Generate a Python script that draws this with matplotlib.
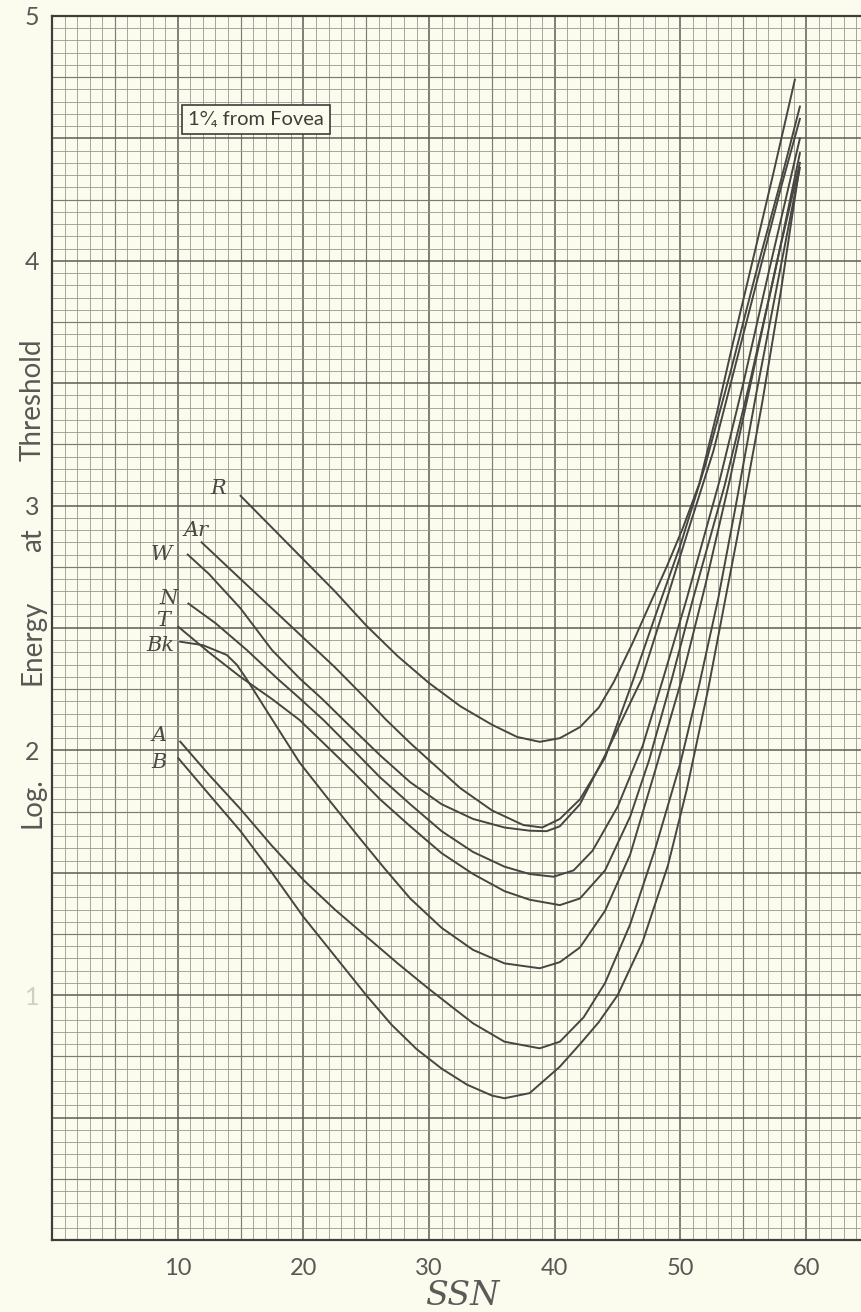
import numpy as np
import matplotlib.pyplot as plt

# threshold curves, 1 1/4 deg from fovea
r_x = [15.0, 17.5, 20.0, 22.5, 25.0, 27.5, 30.0, 32.5, 35.0, 37.0, 38.8, 40.4, 42.0, 43.5, 44.7, 46.2, 47.5, 48.9, 50.2, 51.5, 52.9, 54.2, 55.6, 57.4, 59.1]
r_y = [3.04, 2.91, 2.78, 2.65, 2.51, 2.385, 2.275, 2.18, 2.105, 2.055, 2.035, 2.05, 2.095, 2.175, 2.28, 2.44, 2.59, 2.75, 2.91, 3.09, 3.38, 3.67, 3.97, 4.36, 4.74]

ar_x = [11.9, 15.0, 17.5, 20.0, 22.5, 25.0, 26.6, 28.5, 30.0, 32.5, 35.0, 37.5, 39.0, 40.4, 42.0, 44.0, 46.25, 48.0, 50.0, 52.0, 54.0, 56.0, 58.0, 59.5]
ar_y = [2.85, 2.70, 2.58, 2.46, 2.34, 2.21, 2.124, 2.03, 1.96, 1.845, 1.755, 1.695, 1.685, 1.72, 1.80, 1.97, 2.29, 2.55, 2.84, 3.17, 3.55, 3.95, 4.33, 4.63]

w_x = [10.8, 12.5, 15.0, 17.5, 19.7, 21.5, 23.2, 26.1, 28.5, 31.0, 33.5, 36.0, 38.0, 39.35, 40.4, 42.0, 44.0, 46.9, 48.5, 50.5, 52.6, 54.5, 56.5, 58.0, 59.5]
w_y = [2.80, 2.72, 2.58, 2.41, 2.294, 2.21, 2.124, 1.98, 1.87, 1.78, 1.72, 1.685, 1.672, 1.67, 1.69, 1.78, 1.98, 2.29, 2.55, 2.88, 3.22, 3.60, 4.00, 4.30, 4.58]

n_x = [10.85, 13.0, 15.5, 18.0, 19.7, 21.6, 24.0, 26.1, 28.5, 31.0, 33.5, 36.0, 38.0, 39.9, 41.5, 43.0, 45.0, 47.0, 48.6, 50.5, 53.1, 55.0, 57.0, 59.5]
n_y = [2.60, 2.52, 2.41, 2.29, 2.213, 2.124, 2.00, 1.89, 1.78, 1.67, 1.585, 1.525, 1.495, 1.484, 1.51, 1.59, 1.77, 2.02, 2.29, 2.62, 3.10, 3.50, 3.95, 4.50]

t_x = [10.05, 12.5, 15.0, 17.5, 19.7, 22.0, 24.0, 26.1, 28.5, 31.0, 33.5, 36.0, 38.0, 40.4, 42.0, 44.0, 46.0, 47.5, 49.3, 51.0, 53.5, 55.5, 57.5, 59.5]
t_y = [2.505, 2.40, 2.30, 2.21, 2.124, 2.01, 1.91, 1.80, 1.69, 1.58, 1.495, 1.425, 1.39, 1.368, 1.395, 1.51, 1.73, 1.96, 2.29, 2.62, 3.08, 3.50, 3.95, 4.44]

bk_x = [10.2, 12.0, 13.9, 14.7, 15.5, 17.1, 19.7, 22.0, 24.5, 26.5, 28.5, 31.0, 33.5, 36.0, 38.8, 40.4, 42.0, 44.0, 46.0, 48.0, 50.1, 52.0, 53.9, 55.8, 57.6, 59.5]
bk_y = [2.444, 2.43, 2.39, 2.35, 2.29, 2.16, 1.95, 1.80, 1.64, 1.515, 1.395, 1.275, 1.185, 1.13, 1.11, 1.135, 1.195, 1.345, 1.575, 1.92, 2.29, 2.68, 3.10, 3.55, 3.98, 4.40]

a_x = [10.2, 12.5, 15.0, 17.5, 20.0, 22.5, 25.0, 27.5, 30.0, 33.5, 36.0, 38.8, 40.4, 42.3, 44.0, 46.0, 48.0, 50.0, 51.5, 53.0, 54.4, 56.0, 57.8, 59.5]
a_y = [2.036, 1.90, 1.76, 1.61, 1.471, 1.35, 1.24, 1.13, 1.025, 0.885, 0.81, 0.783, 0.81, 0.91, 1.05, 1.29, 1.60, 1.95, 2.27, 2.62, 3.00, 3.45, 3.93, 4.38]

b_x = [10.05, 12.5, 15.0, 17.5, 20.0, 22.5, 25.0, 27.0, 29.0, 31.0, 33.0, 35.0, 36.0, 38.0, 40.4, 42.0, 43.5, 45.0, 47.0, 49.0, 50.5, 52.2, 53.5, 55.0, 56.5, 58.0, 59.4]
b_y = [1.968, 1.82, 1.67, 1.50, 1.32, 1.16, 1.00, 0.88, 0.78, 0.70, 0.635, 0.59, 0.579, 0.60, 0.708, 0.80, 0.89, 1.00, 1.22, 1.53, 1.84, 2.25, 2.60, 3.00, 3.42, 3.88, 4.36]

curve_names = ["R", "Ar", "W", "N", "T", "Bk", "A", "B"]
x_ticks = [10, 20, 30, 40, 50, 60]
y_ticks = [1, 2, 3, 4, 5]

paper = "#fcfcee"
ink = "#464642"
text_grey = "#585856"
sans = ["Lato", "DejaVu Sans"]

fig = plt.figure(figsize=(8.62, 13.12), dpi=100, facecolor=paper)
ax = fig.add_axes([52 / 862, 1 - 1240 / 1312, 810 / 862, 1224 / 1312])
ax.set_facecolor(paper)
ax.set_xlim(0, 64.44)
ax.set_ylim(0, 5)

# graph paper: fine lines, every 5th a bit darker, every 10th darkest
def paper_style(i):
    if i % 10 == 0:
        return "#5c5c54", 1.1
    if i % 5 == 0:
        return "#7c7c72", 0.85
    return "#98988d", 0.6

for i, gx in enumerate(np.arange(0, 65, 1)):
    c, lw = paper_style(i)
    ax.axvline(gx, color=c, lw=lw, zorder=1)
for i, gy in enumerate(np.arange(0, 5.001, 0.05)):
    c, lw = paper_style(i)
    ax.axhline(gy, color=c, lw=lw, zorder=1)

curves = [(r_x, r_y), (ar_x, ar_y), (w_x, w_y), (n_x, n_y),
          (t_x, t_y), (bk_x, bk_y), (a_x, a_y), (b_x, b_y)]
for xs, ys in curves:
    ax.plot(xs, ys, color=ink, lw=1.4, zorder=3, solid_joinstyle="round")

# hand lettering at the start of each curve
label_pos = {"R": (13.2, 3.07), "Ar": (11.5, 2.90), "W": (8.7, 2.80), "N": (9.3, 2.62),
             "T": (8.8, 2.53), "Bk": (8.6, 2.43), "A": (8.5, 2.06), "B": (8.5, 1.95)}
for name in curve_names:
    lx, ly = label_pos[name]
    ax.text(lx, ly, name, fontsize=15, style="italic", family="DejaVu Serif",
            color="#4a4a46", ha="center", va="center", zorder=4)

ax.text(16.25, 4.578, "1°⁄₄ from Fovea", fontsize=14.5, family=sans, color="#3e3e3a",
        ha="center", va="center", zorder=5,
        bbox=dict(boxstyle="square,pad=0.3", fc=paper, ec="#3e3e3a", lw=1.2))

for s in ["left", "bottom", "top"]:
    ax.spines[s].set_color("#3e3e3a")
    ax.spines[s].set_linewidth(1.6)
ax.spines["right"].set_visible(False)

ax.set_xticks(x_ticks)
ax.set_xticklabels([str(v) for v in x_ticks], fontsize=17, color=text_grey, family=sans)
ax.set_yticks(y_ticks)
ax.set_yticklabels([str(v) for v in y_ticks], fontsize=18, color=text_grey, family=sans)
ax.get_yticklabels()[0].set_color("#cfcfc6")
ax.tick_params(length=0)
ax.tick_params(axis="y", pad=9)
ax.tick_params(axis="x", pad=13)

# y label is written in pieces around the tick numbers
for word, py in [("Log.", 803), ("Energy", 642), ("at", 540), ("Threshold", 400)]:
    fig.text(33 / 862, 1 - py / 1312, word, rotation=90, fontsize=20, color=text_grey,
             family=sans, ha="center", va="center")
fig.text(462 / 862, 1 - 1296 / 1312, "SSN", fontsize=24, style="italic", family="DejaVu Serif",
         color="#5a5a58", ha="center", va="center")

fig.savefig("out.png", dpi=100, facecolor=paper)
